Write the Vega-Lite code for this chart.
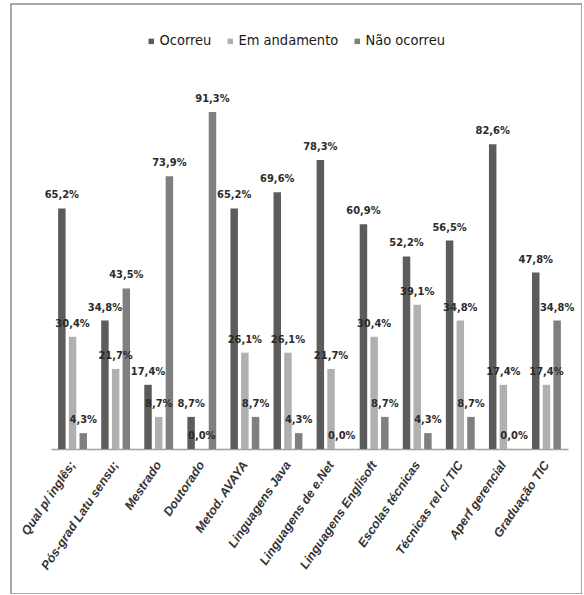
{
  "$schema": "https://vega.github.io/schema/vega-lite/v6.json",
  "autosize": {"type": "none"},
  "padding": {"left": 11, "top": 4, "right": 0, "bottom": 0},
  "width": 571,
  "height": 590,
  "config": {
    "locale": {"number": {"decimal": ",", "thousands": ".", "grouping": [3], "currency": ["R$", ""]}},
    "view": {"stroke": "#8c8c8c", "strokeWidth": 1.5},
    "font": "Liberation Sans"
  },
  "data": {"values": [
    {"item": "Qual p/ inglês;", "status": "Ocorreu", "value": 0.652},
    {"item": "Qual p/ inglês;", "status": "Em andamento", "value": 0.304},
    {"item": "Qual p/ inglês;", "status": "Não ocorreu", "value": 0.043},
    {"item": "Pós-grad Latu sensu;", "status": "Ocorreu", "value": 0.348},
    {"item": "Pós-grad Latu sensu;", "status": "Em andamento", "value": 0.217},
    {"item": "Pós-grad Latu sensu;", "status": "Não ocorreu", "value": 0.435},
    {"item": "Mestrado", "status": "Ocorreu", "value": 0.174},
    {"item": "Mestrado", "status": "Em andamento", "value": 0.087},
    {"item": "Mestrado", "status": "Não ocorreu", "value": 0.739},
    {"item": "Doutorado", "status": "Ocorreu", "value": 0.087},
    {"item": "Doutorado", "status": "Em andamento", "value": 0.0},
    {"item": "Doutorado", "status": "Não ocorreu", "value": 0.913},
    {"item": "Metod. AVAYA", "status": "Ocorreu", "value": 0.652},
    {"item": "Metod. AVAYA", "status": "Em andamento", "value": 0.261},
    {"item": "Metod. AVAYA", "status": "Não ocorreu", "value": 0.087},
    {"item": "Linguagens Java", "status": "Ocorreu", "value": 0.696},
    {"item": "Linguagens Java", "status": "Em andamento", "value": 0.261},
    {"item": "Linguagens Java", "status": "Não ocorreu", "value": 0.043},
    {"item": "Linguagens de e.Net", "status": "Ocorreu", "value": 0.783},
    {"item": "Linguagens de e.Net", "status": "Em andamento", "value": 0.217},
    {"item": "Linguagens de e.Net", "status": "Não ocorreu", "value": 0.0},
    {"item": "Linguagens Englisoft", "status": "Ocorreu", "value": 0.609},
    {"item": "Linguagens Englisoft", "status": "Em andamento", "value": 0.304},
    {"item": "Linguagens Englisoft", "status": "Não ocorreu", "value": 0.087},
    {"item": "Escolas técnicas", "status": "Ocorreu", "value": 0.522},
    {"item": "Escolas técnicas", "status": "Em andamento", "value": 0.391},
    {"item": "Escolas técnicas", "status": "Não ocorreu", "value": 0.043},
    {"item": "Técnicas rel c/ TIC", "status": "Ocorreu", "value": 0.565},
    {"item": "Técnicas rel c/ TIC", "status": "Em andamento", "value": 0.348},
    {"item": "Técnicas rel c/ TIC", "status": "Não ocorreu", "value": 0.087},
    {"item": "Aperf gerencial", "status": "Ocorreu", "value": 0.826},
    {"item": "Aperf gerencial", "status": "Em andamento", "value": 0.174},
    {"item": "Aperf gerencial", "status": "Não ocorreu", "value": 0.0},
    {"item": "Graduação TIC", "status": "Ocorreu", "value": 0.478},
    {"item": "Graduação TIC", "status": "Em andamento", "value": 0.174},
    {"item": "Graduação TIC", "status": "Não ocorreu", "value": 0.348}
  ]},
  "encoding": {
    "x": {
      "field": "item", "type": "nominal", "sort": null,
      "scale": {"range": [40, 557], "paddingInner": 0.33, "paddingOuter": 0.165},
      "axis": {
        "title": null, "labelAngle": -56, "labelFont": "Liberation Sans",
        "labelFontStyle": "italic", "labelFontWeight": "bold", "labelFontSize": 12.5,
        "labelColor": "#333333", "ticks": false, "domainColor": "#a0a0a0", "domainWidth": 1.5,
        "offset": -145, "labelPadding": 13, "labelOverlap": false, "labelLimit": 300
      }
    },
    "xOffset": {
      "field": "status", "type": "nominal",
      "scale": {"domain": ["Ocorreu", "Em andamento", "Não ocorreu"], "paddingInner": 0.3}
    },
    "y": {
      "field": "value", "type": "quantitative",
      "scale": {"domain": [0, 1], "range": [445, 76]},
      "axis": null
    }
  },
  "layer": [
    {
      "mark": {"type": "bar"},
      "encoding": {
        "color": {
          "field": "status", "type": "nominal",
          "scale": {"domain": ["Ocorreu", "Em andamento", "Não ocorreu"], "range": ["#5c5c5c", "#b0b0b0", "#7f7f7f"]},
          "legend": {
            "orient": "none", "legendX": 133, "legendY": 30, "direction": "horizontal",
            "title": null, "symbolType": "square", "symbolSize": 30, "symbolStrokeWidth": 0,
            "labelFont": "DejaVu Sans Condensed", "labelFontSize": 14.5, "labelColor": "#1a1a1a",
            "columnPadding": 11, "labelOffset": 1, "padding": 0
          }
        }
      }
    },
    {
      "mark": {"type": "text", "dy": -10, "baseline": "alphabetic", "font": "DejaVu Sans Condensed", "fontWeight": "bold", "fontSize": 11, "color": "#2b2b2b"},
      "encoding": {"text": {"field": "value", "type": "quantitative", "format": ".1%"}}
    }
  ]
}
